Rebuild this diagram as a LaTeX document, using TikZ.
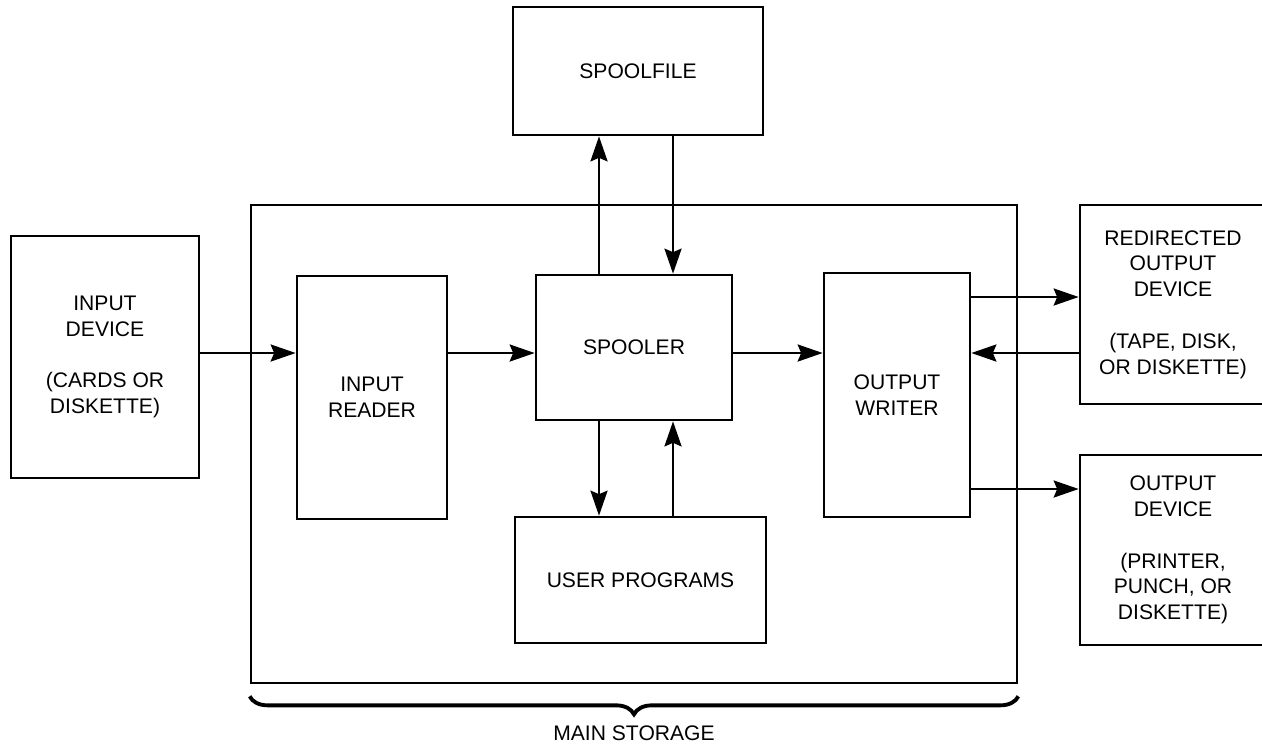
\documentclass[tikz,border=0pt]{standalone}
\usepackage{fontspec}
\setmainfont{Liberation Sans}
\usetikzlibrary{arrows.meta,decorations.pathreplacing}

\tikzset{
  box/.style={draw, line width=1.5pt, align=center, inner sep=0pt,
    font=\fontsize{12}{14.7}\selectfont},
  arr/.style={line width=1.5pt, -{Stealth[length=5mm,width=3.4mm,inset=0.7mm]}}
}

\begin{document}
\begin{tikzpicture}
\useasboundingbox (0,0) rectangle (25.24,-14.88);

\node[box, minimum width=15.32cm, minimum height=9.56cm] (storage) at (12.68,-8.88) {};

\node[box, minimum width=5.0cm, minimum height=2.56cm] (spoolfile) at (12.76,-1.42) {SPOOLFILE};
\node[box, minimum width=3.76cm, minimum height=4.84cm] (indev) at (2.1,-7.14)
  {INPUT\\DEVICE\\[14.7pt](CARDS OR\\DISKETTE)};
\node[box, minimum width=3.0cm, minimum height=4.86cm] (reader) at (7.44,-7.95) {INPUT\\READER};
\node[box, minimum width=3.92cm, minimum height=2.9cm] (spooler) at (12.68,-6.95) {SPOOLER};
\node[box, minimum width=5.02cm, minimum height=2.52cm] (userprog) at (12.81,-11.6) {USER PROGRAMS};
\node[box, minimum width=2.92cm, minimum height=4.88cm] (writer) at (17.94,-7.9) {OUTPUT\\WRITER};
\node[box, minimum width=3.72cm, minimum height=3.98cm] (redir) at (23.46,-6.09)
  {REDIRECTED\\OUTPUT\\DEVICE\\[14.7pt](TAPE, DISK,\\OR DISKETTE)};
\node[box, minimum width=3.72cm, minimum height=3.8cm] (outdev) at (23.46,-11.0)
  {OUTPUT\\DEVICE\\[14.7pt](PRINTER,\\PUNCH, OR\\DISKETTE)};

% levels of the horizontal and vertical connectors
\coordinate (mid) at (0,-7.06);
\coordinate (hi) at (0,-5.94);
\coordinate (lo) at (0,-9.78);
\coordinate (upx) at (11.98,0);
\coordinate (dnx) at (13.46,0);

\draw[arr] (mid -| indev.east) -- (mid -| reader.west);
\draw[arr] (mid -| reader.east) -- (mid -| spooler.west);
\draw[arr] (mid -| spooler.east) -- (mid -| writer.west);
\draw[arr] (hi -| writer.east) -- (hi -| redir.west);
\draw[arr] (mid -| redir.west) -- (mid -| writer.east);
\draw[arr] (lo -| writer.east) -- (lo -| outdev.west);

\draw[arr] (upx |- spooler.north) -- (upx |- spoolfile.south);
\draw[arr] (dnx |- spoolfile.south) -- (dnx |- spooler.north);
\draw[arr] (upx |- spooler.south) -- (upx |- userprog.north);
\draw[arr] (dnx |- userprog.north) -- (dnx |- spooler.south);

\draw[line width=2.2pt, decorate, decoration={brace, mirror, amplitude=0.36cm}]
  ([yshift=-0.24cm]storage.south west) -- ([yshift=-0.24cm]storage.south east);
\node[font=\fontsize{12}{14.7}\selectfont] (mslabel) at (12.68,-14.66) {MAIN STORAGE};
\end{tikzpicture}
\end{document}
